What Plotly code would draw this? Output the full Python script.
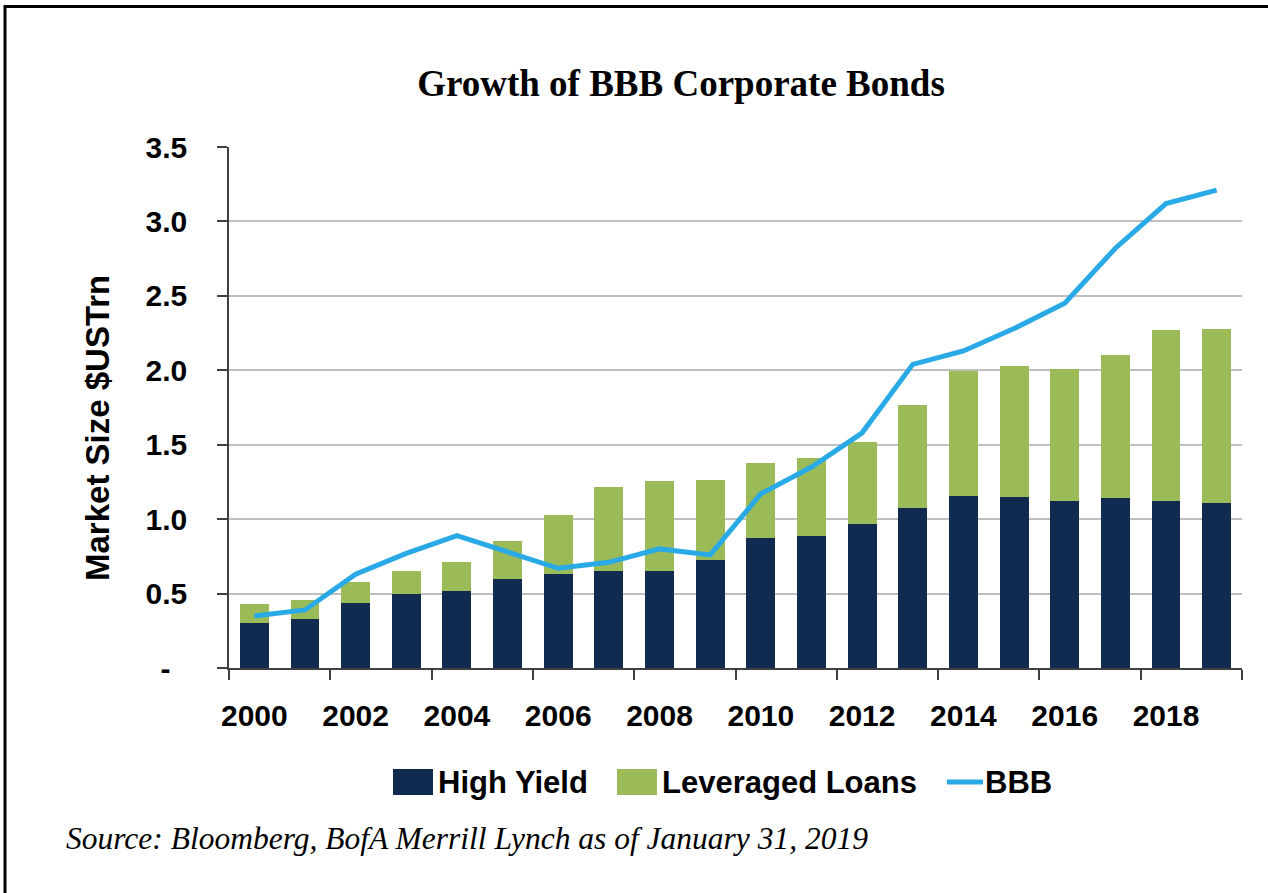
import plotly.graph_objects as go

# Market size by year, $US trillions
years = list(range(2000, 2020))
high_yield = [0.30, 0.33, 0.44, 0.50, 0.515, 0.60, 0.63, 0.655, 0.655, 0.725,
              0.87, 0.89, 0.965, 1.075, 1.155, 1.15, 1.12, 1.14, 1.12, 1.11]
leveraged_loans = [0.13, 0.13, 0.14, 0.15, 0.20, 0.25, 0.40, 0.56, 0.60, 0.54,
                   0.51, 0.52, 0.55, 0.69, 0.84, 0.88, 0.89, 0.96, 1.15, 1.17]
bbb = [0.35, 0.39, 0.63, 0.77, 0.89, 0.78, 0.67, 0.71, 0.80, 0.76,
       1.17, 1.35, 1.58, 2.04, 2.13, 2.28, 2.45, 2.82, 3.12, 3.21]

x_tick_vals = [2000, 2002, 2004, 2006, 2008, 2010, 2012, 2014, 2016, 2018]
x_tick_text = [str(v) for v in x_tick_vals]
y_tick_vals = [0, 0.5, 1.0, 1.5, 2.0, 2.5, 3.0, 3.5]
y_tick_text = ["-\u00a0\u00a0", "0.5", "1.0", "1.5", "2.0", "2.5", "3.0", "3.5"]

series_names = ["High Yield", "Leveraged Loans", "BBB"]
series_colors = ["#112A50", "#9BBB59", "#29AAE6"]

W, H = 1268, 893
L, R, T, B = 229, 26, 147, 225
PW, PH = W - L - R, H - T - B

SANS = "Arial, Liberation Sans, sans-serif"
SERIF = "Times New Roman, Liberation Serif, serif"


def px_x(px):
    return (px - L) / PW


def px_y(py):
    return (H - B - py) / PH


fig = go.Figure()
fig.add_trace(go.Bar(x=years, y=high_yield, name=series_names[0],
                     marker=dict(color=series_colors[0], line=dict(width=0))))
fig.add_trace(go.Bar(x=years, y=leveraged_loans, name=series_names[1],
                     marker=dict(color=series_colors[1], line=dict(width=0))))
fig.add_trace(go.Scatter(x=years, y=bbb, name=series_names[2], mode="lines",
                         line=dict(color=series_colors[2], width=5)))

tick_font = dict(family=SANS, size=30, color="black", weight="bold")

fig.update_layout(
    width=W, height=H,
    margin=dict(l=L, r=R, t=T, b=B),
    paper_bgcolor="white", plot_bgcolor="white",
    barmode="stack", bargap=0.43,
    showlegend=False,
    title=dict(text="<b>Growth of BBB Corporate Bonds</b>",
               x=681 / W, xanchor="center", y=1 - 83 / H, yanchor="middle",
               font=dict(family=SERIF, size=37, color="black")),
    xaxis=dict(range=[1999.5, 2019.5], tickmode="array",
               tickvals=x_tick_vals, ticktext=x_tick_text,
               ticks="", showgrid=False, zeroline=False,
               showline=True, linecolor="#404040", linewidth=1.5,
               tickfont=tick_font, ticklabelstandoff=20,
               minor=dict(tick0=1999.5, dtick=2, ticks="outside",
                          ticklen=10, tickwidth=1.5, tickcolor="#404040",
                          showgrid=False)),
    yaxis=dict(range=[0, 3.5], tickmode="array",
               tickvals=y_tick_vals, ticktext=y_tick_text,
               ticks="outside", ticklen=10, tickwidth=1.5, tickcolor="#404040",
               showgrid=True, gridcolor="#BFBFBF", gridwidth=1.5,
               zeroline=False, showline=True, linecolor="#404040", linewidth=1.5,
               tickfont=tick_font, ticklabelstandoff=24),
)

# legend row drawn below the axis
legend_y = 782
legend_font = dict(family=SANS, size=31, color="black", weight="bold")
fig.add_shape(type="rect", xref="paper", yref="paper",
              x0=px_x(393), x1=px_x(433), y0=px_y(795), y1=px_y(769),
              fillcolor=series_colors[0], line=dict(width=0))
fig.add_annotation(text=series_names[0], xref="paper", yref="paper",
                   x=px_x(436), y=px_y(legend_y), xanchor="left", yanchor="middle",
                   showarrow=False, font=legend_font)
fig.add_shape(type="rect", xref="paper", yref="paper",
              x0=px_x(617), x1=px_x(657), y0=px_y(795), y1=px_y(769),
              fillcolor=series_colors[1], line=dict(width=0))
fig.add_annotation(text=series_names[1], xref="paper", yref="paper",
                   x=px_x(660), y=px_y(legend_y), xanchor="left", yanchor="middle",
                   showarrow=False, font=legend_font)
fig.add_shape(type="line", xref="paper", yref="paper",
              x0=px_x(947), x1=px_x(983), y0=px_y(legend_y), y1=px_y(legend_y),
              line=dict(color=series_colors[2], width=5))
fig.add_annotation(text=series_names[2], xref="paper", yref="paper",
                   x=px_x(983), y=px_y(legend_y), xanchor="left", yanchor="middle",
                   showarrow=False, font=legend_font)

# y-axis title
fig.add_annotation(text="<b>Market Size $USTrn</b>", textangle=-90,
                   xref="paper", yref="paper", x=px_x(97), y=px_y(428),
                   xanchor="center", yanchor="middle", showarrow=False,
                   font=dict(family=SANS, size=33, color="black"))

# source note
fig.add_annotation(text="<i>Source: Bloomberg, BofA Merrill Lynch as of January 31, 2019</i>",
                   xref="paper", yref="paper", x=px_x(64), y=px_y(838),
                   xanchor="left", yanchor="middle", showarrow=False,
                   font=dict(family=SERIF, size=31.5, color="black"))

# frame lines along the top and left edges
fig.add_shape(type="line", xref="paper", yref="paper",
              x0=px_x(4), x1=px_x(W + 2), y0=px_y(6.5), y1=px_y(6.5),
              line=dict(color="black", width=3))
fig.add_shape(type="line", xref="paper", yref="paper",
              x0=px_x(5), x1=px_x(5), y0=px_y(5), y1=px_y(H + 2),
              line=dict(color="black", width=3))

fig.write_html("out.html")
